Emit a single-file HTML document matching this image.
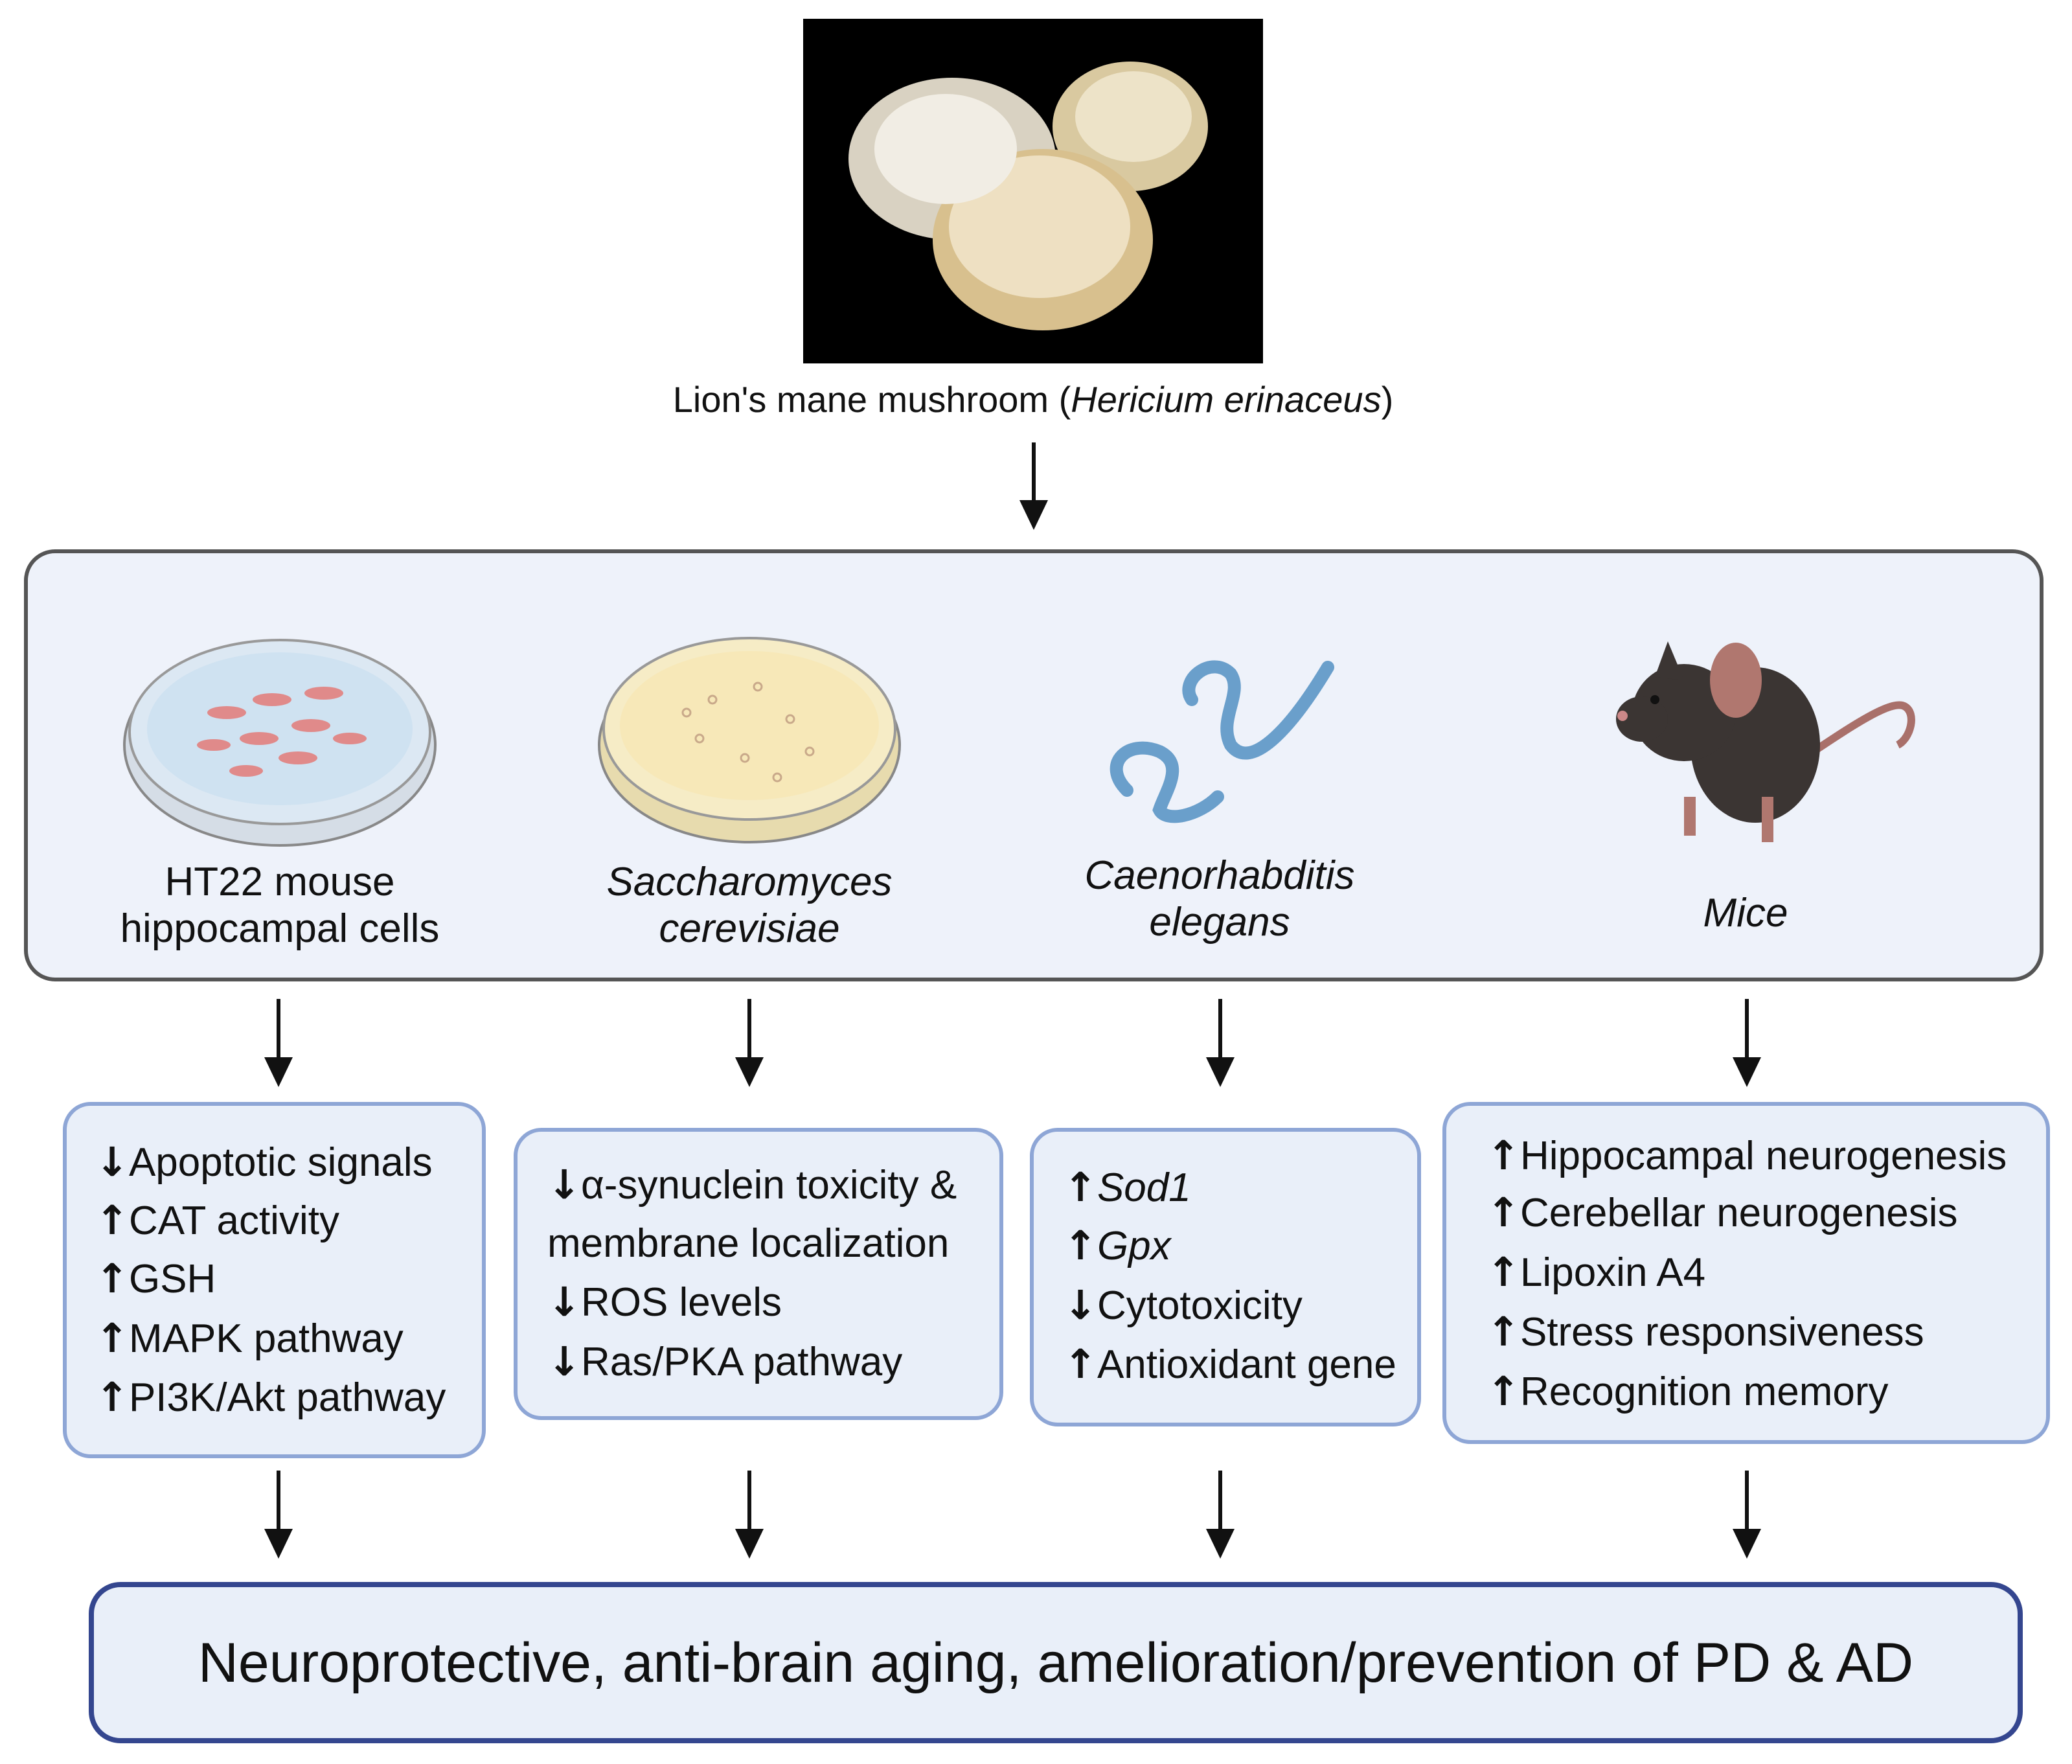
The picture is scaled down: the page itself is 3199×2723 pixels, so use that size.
<!DOCTYPE html>
<html><head><meta charset="utf-8"><style>
html,body{margin:0;padding:0;background:#fff}
svg{display:block}
text{font-family:"Liberation Sans",sans-serif;fill:#111}
.ar{font-family:"DejaVu Sans",sans-serif;font-weight:bold}
</style></head><body>
<svg width="3199" height="2723" viewBox="0 0 3199 2723" xmlns="http://www.w3.org/2000/svg">
<!-- photo -->
<rect x="1240" y="29" width="710" height="532" fill="#000"/>
<ellipse cx="1470" cy="245" rx="160" ry="125" fill="#d9d2c2"/>
<ellipse cx="1745" cy="195" rx="120" ry="100" fill="#d9c9a0"/>
<ellipse cx="1610" cy="370" rx="170" ry="140" fill="#d8c08e"/>
<ellipse cx="1605" cy="350" rx="140" ry="110" fill="#eee0c2"/>
<ellipse cx="1460" cy="230" rx="110" ry="85" fill="#f1ede4"/>
<ellipse cx="1750" cy="180" rx="90" ry="70" fill="#ede3c8"/>
<text x="1595" y="636" font-size="56" text-anchor="middle" fill="#333">Lion's mane mushroom (<tspan font-style="italic">Hericium erinaceus</tspan>)</text>
<line x1="1596" y1="683" x2="1596" y2="780" stroke="#111" stroke-width="6"/>
<polygon points="1574,772 1618,772 1596,818" fill="#111"/>
<!-- big box -->
<rect x="40" y="851" width="3112" height="661" rx="45" fill="#eef2fa" stroke="#555" stroke-width="6"/>
<!-- petri 1 -->
<ellipse cx="432" cy="1150" rx="240" ry="155" fill="#d5dde6" stroke="#888" stroke-width="4"/>
<ellipse cx="432" cy="1130" rx="232" ry="142" fill="#dce8f3" stroke="#999" stroke-width="4"/>
<ellipse cx="432" cy="1125" rx="205" ry="118" fill="#cfe2f1"/>
<g fill="#e08a8a">
<ellipse cx="350" cy="1100" rx="30" ry="10"/><ellipse cx="420" cy="1080" rx="30" ry="10"/><ellipse cx="480" cy="1120" rx="30" ry="10"/>
<ellipse cx="400" cy="1140" rx="30" ry="10"/><ellipse cx="500" cy="1070" rx="30" ry="10"/><ellipse cx="330" cy="1150" rx="26" ry="9"/>
<ellipse cx="460" cy="1170" rx="30" ry="10"/><ellipse cx="540" cy="1140" rx="26" ry="9"/><ellipse cx="380" cy="1190" rx="26" ry="9"/>
</g>
<text x="432" y="1382" font-size="62" text-anchor="middle" fill="#333">HT22 mouse</text>
<text x="432" y="1454" font-size="62" text-anchor="middle" fill="#333">hippocampal cells</text>
<!-- petri 2 -->
<ellipse cx="1157" cy="1150" rx="232" ry="150" fill="#e7dbae" stroke="#888" stroke-width="4"/>
<ellipse cx="1157" cy="1125" rx="225" ry="140" fill="#f6ecc6" stroke="#999" stroke-width="4"/>
<ellipse cx="1157" cy="1120" rx="200" ry="115" fill="#f7e8b8"/>
<g fill="none" stroke="#c9a98a" stroke-width="3">
<circle cx="1100" cy="1080" r="6"/><circle cx="1170" cy="1060" r="6"/><circle cx="1220" cy="1110" r="6"/><circle cx="1080" cy="1140" r="6"/>
<circle cx="1150" cy="1170" r="6"/><circle cx="1250" cy="1160" r="6"/><circle cx="1200" cy="1200" r="6"/><circle cx="1060" cy="1100" r="6"/>
</g>
<text x="1157" y="1382" font-size="62" text-anchor="middle" font-style="italic" fill="#333">Saccharomyces</text>
<text x="1157" y="1454" font-size="62" text-anchor="middle" font-style="italic" fill="#333">cerevisiae</text>
<!-- worms -->
<g fill="none" stroke="#6a9fcb" stroke-width="20" stroke-linecap="round">
<path d="M1840,1080 C1820,1050 1870,1010 1900,1040 C1920,1070 1880,1110 1900,1150 C1930,1190 1990,1130 2050,1030"/>
<path d="M1740,1220 C1700,1180 1740,1140 1790,1160 C1830,1180 1800,1220 1790,1250 C1800,1270 1850,1260 1880,1230"/>
</g>
<text x="1883" y="1372" font-size="62" text-anchor="middle" font-style="italic" fill="#333">Caenorhabditis</text>
<text x="1883" y="1444" font-size="62" text-anchor="middle" font-style="italic" fill="#333">elegans</text>
<!-- mouse -->
<path d="M2800,1160 C2860,1120 2920,1080 2940,1090 C2960,1100 2950,1140 2930,1150" fill="none" stroke="#a9706a" stroke-width="12"/>
<ellipse cx="2710" cy="1150" rx="100" ry="120" fill="#3b3533"/>
<ellipse cx="2600" cy="1100" rx="80" ry="75" fill="#3b3533"/>
<ellipse cx="2535" cy="1110" rx="40" ry="35" fill="#3b3533"/>
<ellipse cx="2680" cy="1050" rx="40" ry="58" fill="#b0776f"/>
<path d="M2575,990 L2600,1050 L2555,1045 Z" fill="#3b3533"/>
<circle cx="2505" cy="1105" r="8" fill="#c88"/>
<circle cx="2555" cy="1080" r="7" fill="#111"/>
<rect x="2600" y="1230" width="18" height="60" fill="#b0776f"/>
<rect x="2720" y="1230" width="18" height="70" fill="#b0776f"/>
<text x="2695" y="1430" font-size="62" text-anchor="middle" font-style="italic" fill="#333">Mice</text>
<!-- arrows -->
<g stroke="#111" stroke-width="6">
<line x1="430" y1="1542" x2="430" y2="1640"/><line x1="1157" y1="1542" x2="1157" y2="1640"/>
<line x1="1884" y1="1542" x2="1884" y2="1640"/><line x1="2697" y1="1542" x2="2697" y2="1640"/>
<line x1="430" y1="2270" x2="430" y2="2368"/><line x1="1157" y1="2270" x2="1157" y2="2368"/>
<line x1="1884" y1="2270" x2="1884" y2="2368"/><line x1="2697" y1="2270" x2="2697" y2="2368"/>
</g>
<g fill="#111">
<polygon points="408,1632 452,1632 430,1678"/><polygon points="1135,1632 1179,1632 1157,1678"/>
<polygon points="1862,1632 1906,1632 1884,1678"/><polygon points="2675,1632 2719,1632 2697,1678"/>
<polygon points="408,2360 452,2360 430,2406"/><polygon points="1135,2360 1179,2360 1157,2406"/>
<polygon points="1862,2360 1906,2360 1884,2406"/><polygon points="2675,2360 2719,2360 2697,2406"/>
</g>
<!-- boxes -->
<g fill="#e9eff9" stroke="#8ea6d6" stroke-width="6">
<rect x="100" y="1704" width="647" height="544" rx="40"/>
<rect x="796" y="1744" width="750" height="445" rx="40"/>
<rect x="1593" y="1744" width="598" height="455" rx="40"/>
<rect x="2230" y="1704" width="932" height="522" rx="40"/>
</g>
<g font-size="62">
<text x="147" y="1815"><tspan class="ar">↓</tspan>Apoptotic  signals</text>
<text x="147" y="1905"><tspan class="ar">↑</tspan>CAT activity</text>
<text x="147" y="1995"><tspan class="ar">↑</tspan>GSH</text>
<text x="147" y="2087"><tspan class="ar">↑</tspan>MAPK pathway</text>
<text x="147" y="2178"><tspan class="ar">↑</tspan>PI3K/Akt pathway</text>
<text x="845" y="1850"><tspan class="ar">↓</tspan>α-synuclein toxicity &amp;</text>
<text x="845" y="1940">membrane localization</text>
<text x="845" y="2031"><tspan class="ar">↓</tspan>ROS levels</text>
<text x="845" y="2123"><tspan class="ar">↓</tspan>Ras/PKA pathway</text>
<text x="1642" y="1854"><tspan class="ar">↑</tspan><tspan font-style="italic">Sod1</tspan></text>
<text x="1642" y="1944"><tspan class="ar">↑</tspan><tspan font-style="italic">Gpx</tspan></text>
<text x="1642" y="2036"><tspan class="ar">↓</tspan>Cytotoxicity</text>
<text x="1642" y="2127"><tspan class="ar">↑</tspan>Antioxidant gene</text>
<text x="2295" y="1805"><tspan class="ar">↑</tspan>Hippocampal neurogenesis</text>
<text x="2295" y="1893"><tspan class="ar">↑</tspan>Cerebellar neurogenesis</text>
<text x="2295" y="1985"><tspan class="ar">↑</tspan>Lipoxin A4</text>
<text x="2295" y="2077"><tspan class="ar">↑</tspan>Stress responsiveness</text>
<text x="2295" y="2169"><tspan class="ar">↑</tspan>Recognition memory</text>
</g>
<!-- final box -->
<rect x="141" y="2446" width="2978" height="241" rx="45" fill="#e9eff9" stroke="#34468f" stroke-width="8"/>
<text x="1630" y="2596" font-size="86" text-anchor="middle">Neuroprotective, anti-brain aging, amelioration/prevention of PD &amp; AD</text>
</svg>
</body></html>
